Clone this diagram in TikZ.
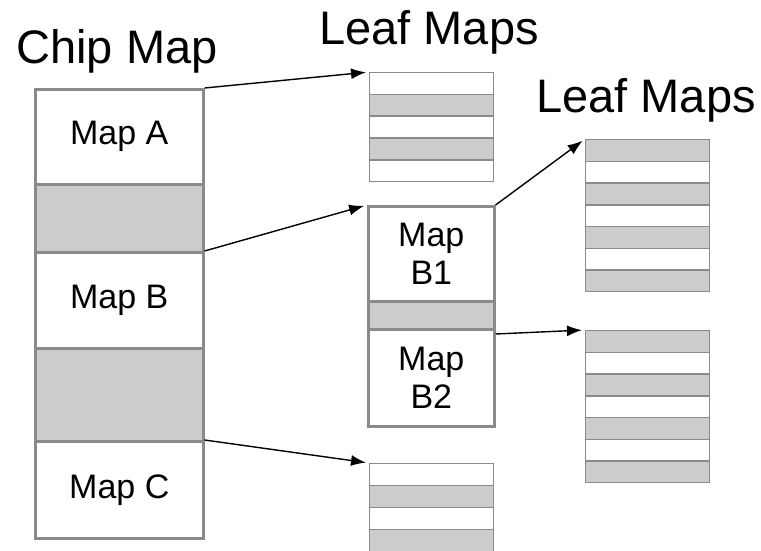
\documentclass[tikz,border=0pt]{standalone}
\usepackage{fontspec}
\setmainfont{Liberation Sans}
\usetikzlibrary{arrows.meta,calc}
\definecolor{bord}{HTML}{8A8A8A}
\definecolor{shade}{HTML}{CCCCCC}
\tikzset{
  seg/.style={draw=bord, line width=2.6pt, anchor=north west, minimum width=168pt, inner sep=0pt, font=\fontsize{34}{38}\selectfont, align=center},
  bseg/.style={draw=bord, line width=2.6pt, anchor=north west, minimum width=126pt, inner sep=0pt, font=\fontsize{34}{38}\selectfont, align=center},
  leafrow/.style={draw=bord, line width=1.4pt, anchor=north west, minimum width=124pt, minimum height=21.7pt, inner sep=0pt},
  whiterow/.style={leafrow, fill=white},
  greyrow/.style={leafrow, fill=shade},
  titletext/.style={anchor=base, font=\fontsize{47}{50}\selectfont},
  arr/.style={line width=1.4pt, -{Latex[length=15pt,width=11pt]}, shorten >=3pt}
}
\begin{document}
\begin{tikzpicture}[x=1pt,y=-1pt]
\useasboundingbox (0,0) rectangle (761,551);
\clip (0,0) rectangle (761,551);
% titles
\node[titletext] (tchip) at (117,64) {Chip Map};
\node[titletext] (tleaf1) at (429,45) {Leaf Maps};
\node[titletext] (tleaf2) at (646,113) {Leaf Maps};
% chip map
\node[seg, minimum height=95pt] (mapA) at (34,88) {Map A};
\node[seg, minimum height=68pt, fill=shade] (g1) at (34,183) {};
\node[seg, minimum height=96pt] (mapB) at (34,251) {Map B};
\node[seg, minimum height=93pt, fill=shade] (g2) at (34,347) {};
\node[seg, minimum height=97pt] (mapC) at (34,440) {Map C};
% map B detail
\node[bseg, minimum height=95pt] (mapB1) at (367,205) {Map\\B1};
\node[bseg, minimum height=28pt, fill=shade] (gb) at (367,300) {};
\node[bseg, minimum height=97pt] (mapB2) at (367,328) {Map\\B2};
% leaf map 1 (top)
\node[whiterow] (l1a) at (369,72.0) {};
\node[greyrow] (l1b) at (369,93.8) {};
\node[whiterow] (l1c) at (369,115.6) {};
\node[greyrow] (l1d) at (369,137.4) {};
\node[whiterow] (l1e) at (369,159.2) {};
% leaf map 2 (right top)
\node[greyrow] (l2a) at (585,139.0) {};
\node[whiterow] (l2b) at (585,160.7) {};
\node[greyrow] (l2c) at (585,182.4) {};
\node[whiterow] (l2d) at (585,204.1) {};
\node[greyrow] (l2e) at (585,225.8) {};
\node[whiterow] (l2f) at (585,247.5) {};
\node[greyrow] (l2g) at (585,269.2) {};
% leaf map 3 (right bottom)
\node[greyrow] (l3a) at (585,330.0) {};
\node[whiterow] (l3b) at (585,351.7) {};
\node[greyrow] (l3c) at (585,373.4) {};
\node[whiterow] (l3d) at (585,395.1) {};
\node[greyrow] (l3e) at (585,416.8) {};
\node[whiterow] (l3f) at (585,438.5) {};
\node[greyrow] (l3g) at (585,460.2) {};
% leaf map 4 (bottom)
\node[whiterow] (l4a) at (369,463.0) {};
\node[greyrow] (l4b) at (369,485.0) {};
\node[whiterow] (l4c) at (369,507.0) {};
\node[greyrow] (l4d) at (369,529.0) {};
% arrows
\draw[arr] (mapA.north east) -- (l1a.north west);
\draw[arr] (mapB.north east) -- (mapB1.north west);
\draw[arr] (mapC.north east) -- (l4a.north west);
\draw[arr] (mapB1.north east) -- (l2a.north west);
\draw[arr] ($(mapB2.north east)+(0,6)$) -- (l3a.north west);
\end{tikzpicture}
\end{document}
